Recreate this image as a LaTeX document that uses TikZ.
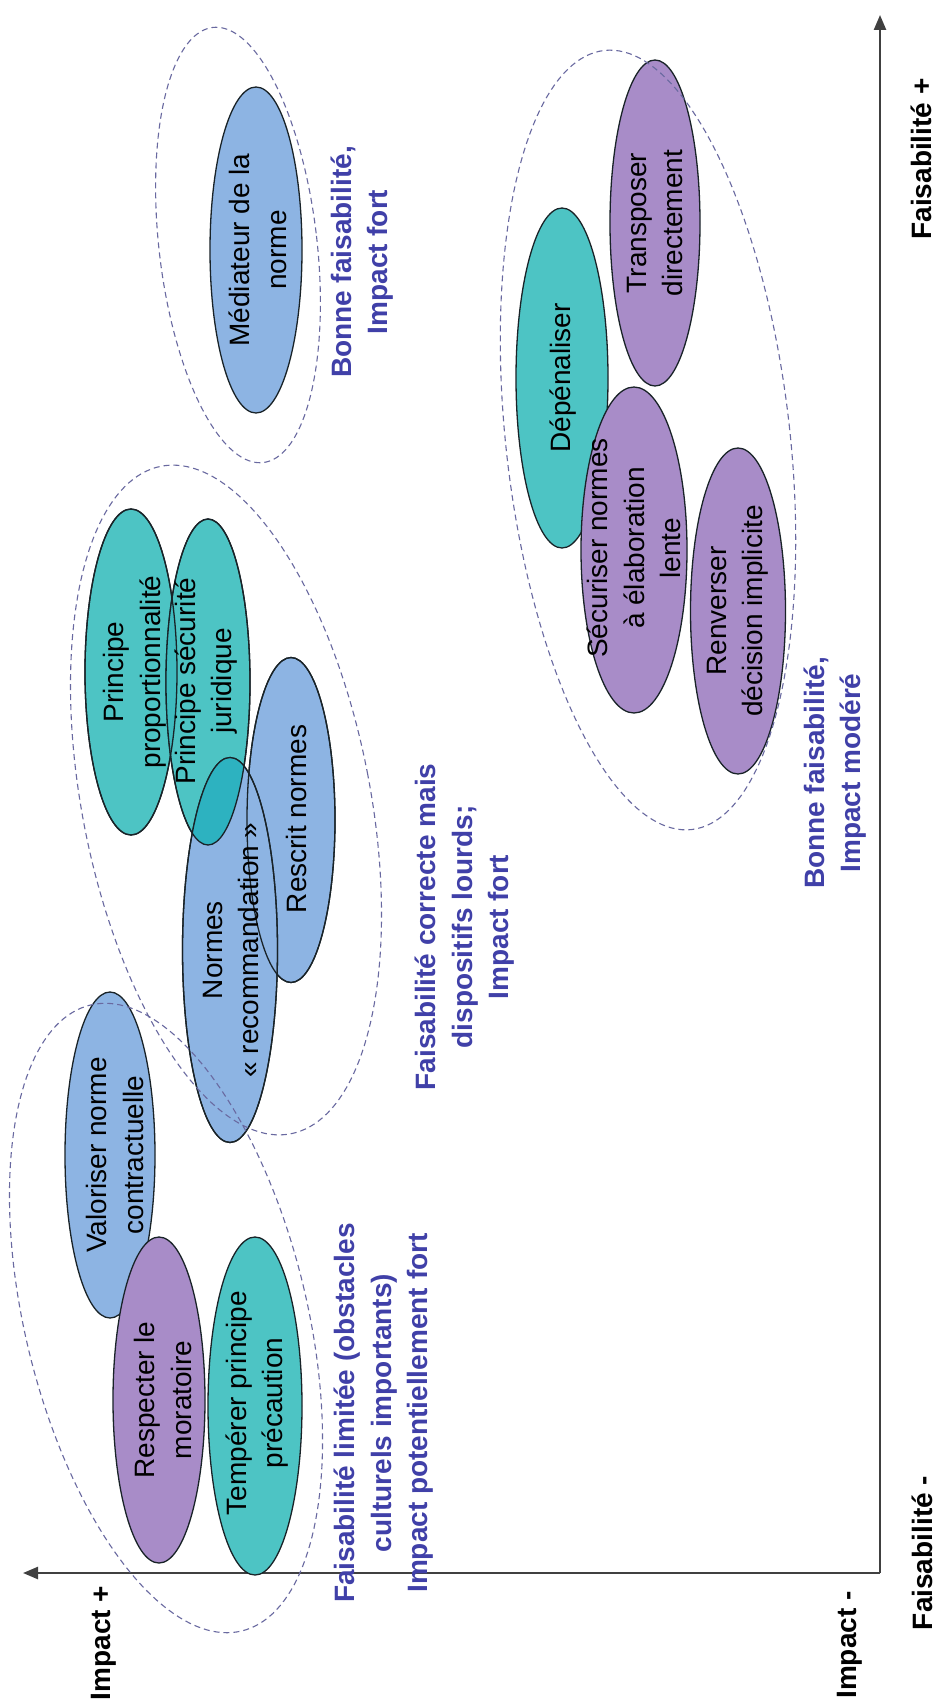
\documentclass[tikz,border=0pt]{standalone}
\usepackage{fontspec}
\setmainfont{Liberation Sans}
\usetikzlibrary{shapes.geometric,arrows.meta}
\definecolor{cblue}{RGB}{141,180,227}
\definecolor{cteal}{RGB}{77,196,196}
\definecolor{cpurple}{RGB}{168,140,200}
\definecolor{clens}{RGB}{45,178,192}
\definecolor{clensb}{RGB}{62,186,190}
\definecolor{clab}{RGB}{64,64,168}
\definecolor{cdash}{RGB}{105,105,160}
\definecolor{caxis}{RGB}{64,64,64}
\definecolor{cline}{RGB}{25,35,40}
\begin{document}
\begin{tikzpicture}[x=1pt,y=-1pt,
  ell/.style={ellipse, draw=cline, line width=1.3pt, inner sep=0pt, outer sep=0pt},
  bluee/.style={ell, fill=cblue},
  teale/.style={ell, fill=cteal},
  purpe/.style={ell, fill=cpurple},
  outl/.style={draw=cline, line width=1.3pt},
  txt/.style={rotate=90, align=center, inner sep=0pt, font=\fontsize{28}{36.5}\selectfont},
  lab/.style={txt, text=clab, font=\fontsize{28}{36.5}\selectfont\bfseries},
  axl/.style={txt, text=black, font=\fontsize{28}{36.5}\selectfont\bfseries},
  dsh/.style={draw=cdash, line width=1.1pt, dash pattern=on 6pt off 4pt},
  axis/.style={draw=caxis, line width=2.4pt, -{Triangle[length=15pt,width=12pt]}}]

\useasboundingbox (0,0) rectangle (936,1702);
\fill[white] (0,0) rectangle (936,1702);

% axes
\coordinate (O) at (880,1573);
\coordinate (impend) at (23,1573);
\coordinate (faisend) at (880,15);
\draw[axis] (O) -- (impend);
\draw[axis] (O) -- (faisend);

% ellipses : top group
\node[bluee, minimum width=92pt, minimum height=326pt] (med) at (256,250) {};

% middle group
\node[teale, minimum width=92pt, minimum height=326pt] (prop) at (131,672) {};
\node[teale, minimum width=84pt, minimum height=326pt] (secj) at (208,682) {};
\node[bluee, minimum width=88pt, minimum height=325pt] (rescrit) at (291,820) {};
\node[bluee, minimum width=95pt, minimum height=385pt] (normes) at (230,950) {};
\begin{scope}
  \clip (secj.center) ellipse [x radius=42, y radius=163];
  \fill[clens] (normes.center) ellipse [x radius=47.5, y radius=192.5];
  \fill[clensb] (prop.center) ellipse [x radius=46, y radius=163];
\end{scope}
\draw[outl] (prop.center) ellipse [x radius=46, y radius=163];
\draw[outl] (secj.center) ellipse [x radius=42, y radius=163];
\draw[outl] (rescrit.center) ellipse [x radius=44, y radius=162.5];
\draw[outl] (normes.center) ellipse [x radius=47.5, y radius=192.5];

% left group
\node[bluee, minimum width=90pt, minimum height=326pt] (valor) at (110,1155) {};
\node[purpe, minimum width=92pt, minimum height=326pt] (resp) at (159,1400) {};
\node[teale, minimum width=94pt, minimum height=338pt] (temp) at (255,1406) {};

% bottom-right group
\node[teale, minimum width=92pt, minimum height=340pt] (depen) at (562,378) {};
\node[purpe, minimum width=106pt, minimum height=326pt] (secur) at (634,550) {};
\node[purpe, minimum width=95pt, minimum height=326pt] (renv) at (738,611) {};
\node[purpe, minimum width=90pt, minimum height=326pt] (transp) at (655,223) {};

% dashed group outlines
\draw[dsh] plot[variable=\t,domain=0:360,samples=181]
  ({238+79*cos(\t)*cos(6.6)+219*sin(\t)*sin(6.6)},{245-79*cos(\t)*sin(6.6)+219*sin(\t)*cos(6.6)}) -- cycle;
\draw[dsh] plot[variable=\t,domain=0:360,samples=181]
  ({226+144*cos(\t)*cos(11)+340*sin(\t)*sin(11)},{800-144*cos(\t)*sin(11)+340*sin(\t)*cos(11)}) -- cycle;
\draw[dsh] plot[variable=\t,domain=0:360,samples=181]
  ({648+142*cos(\t)*cos(6.4)+392*sin(\t)*sin(6.4)},{440-142*cos(\t)*sin(6.4)+392*sin(\t)*cos(6.4)}) -- cycle;
\draw[dsh] plot[variable=\t,domain=0:360,samples=181]
  ({166+141*cos(\t)*cos(13.6)+322*sin(\t)*sin(13.6)},{1318-141*cos(\t)*sin(13.6)+322*sin(\t)*cos(13.6)}) -- cycle;

% texts in ellipses
\node[txt] (medt) at (258,250) {Médiateur de la\\norme};
\node[txt] (propt) at (135,672) {Principe\\proportionnalité};
\node[txt] (secjt) at (206,681) {Principe sécurité\\juridique};
\node[txt] (rescritt) at (296,819) {Rescrit normes};
\node[txt] (normest) at (231,950) {Normes\\«~recommandation~»};
\node[txt] (valort) at (115,1155) {Valoriser norme\\contractuelle};
\node[txt] (respt) at (163,1400) {Respecter le\\moratoire};
\node[txt] (tempt) at (257,1403) {Tempérer principe\\précaution};
\node[txt] (depent) at (563,378) {Dépénaliser};
\node[txt] (secut) at (634,548) {Sécuriser normes\\à élaboration\\lente};
\node[txt] (renvt) at (738,611) {Renverser\\décision implicite};
\node[txt] (transpt) at (655,223) {Transposer\\directement};

% group labels
\node[lab] (lab1) at (362,262) {Bonne faisabilité,\\Impact fort};
\node[lab] (lab2) at (465,927) {Faisabilité correcte mais\\dispositifs lourds;\\Impact fort};
\node[lab] (lab3) at (835,773) {Bonne faisabilité,\\Impact modéré};
\node[lab] (lab4) at (384,1413) {Faisabilité limitée (obstacles\\culturels importants)\\Impact potentiellement fort};

% axis labels
\node[axl] (impplus) at (104,1643) {Impact +};
\node[axl] (impminus) at (850,1645) {Impact -};
\node[axl] (faisminus) at (922,1553) {Faisabilité -};
\node[axl] (faisplus) at (921,159) {Faisabilité +};
\end{tikzpicture}
\end{document}
